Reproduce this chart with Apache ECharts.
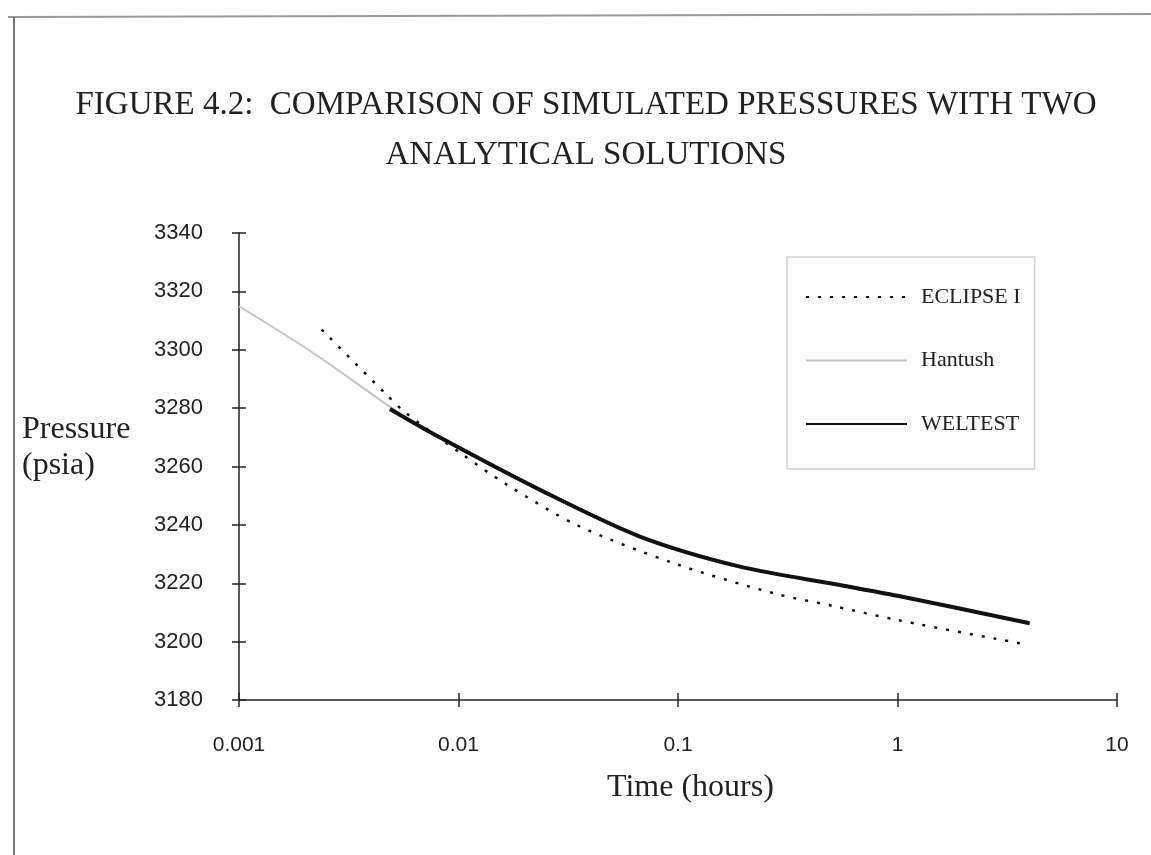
<!DOCTYPE html>
<html><head><meta charset="utf-8">
<script src="https://cdn.jsdelivr.net/npm/echarts@6/dist/echarts.min.js"></script>
<style>html,body{margin:0;padding:0;background:#fff}#c{width:1151px;height:855px}</style>
</head><body><div id="c"></div>
<script>
const titleLines = ['FIGURE 4.2:  COMPARISON OF SIMULATED PRESSURES WITH TWO', 'ANALYTICAL SOLUTIONS'];
const xTicks = [0.001, 0.01, 0.1, 1, 10];
const xTickLabels = ['0.001', '0.01', '0.1', '1', '10'];
const eclipseT = [0.00238, 0.00462, 0.0057, 0.0102, 0.0166, 0.0345, 0.0952, 0.272, 0.51, 1.0, 3.94];
const eclipseP = [3306.9, 3285.2, 3278.6, 3264.6, 3253.8, 3240.0, 3226.9, 3216.6, 3212.2, 3207.4, 3198.9];
const hantushT = [0.001, 0.00218, 0.00471, 0.0052];
const hantushP = [3314.9, 3298.9, 3281.2, 3279.2];
const weltestT = [0.00487, 0.00824, 0.0235, 0.0671, 0.1916, 0.547, 1.0, 4.0];
const weltestP = [3279.7, 3269.9, 3252.0, 3236.0, 3225.7, 3219.4, 3215.7, 3206.3];

const zip = (a, b) => a.map((v, i) => [v, b[i]]);
const serif = 'Liberation Serif';
const sans = 'Liberation Sans';
const G = {left: 239, right: 34, top: 233, bottom: 155};
const gridW = 1151 - G.left - G.right;
const gridH = 855 - G.top - G.bottom;
const tickStyle = {color: '#222', width: 1.5};
const chart = echarts.init(document.getElementById('c'));
chart.setOption({
  animation: false,
  backgroundColor: '#fff',
  title: [
    {text: titleLines[0], left: 581, top: 84, textAlign: 'center',
     textStyle: {fontFamily: serif, fontSize: 33, fontWeight: 'normal', color: '#222'}},
    {text: titleLines[1], left: 581, top: 134, textAlign: 'center',
     textStyle: {fontFamily: serif, fontSize: 33, fontWeight: 'normal', color: '#222'}}
  ],
  grid: G,
  legend: {
    orient: 'vertical', left: 787, top: 257,
    padding: [28, 14, 33, 18],
    itemGap: 39.5, itemWidth: 101, itemHeight: 14,
    backgroundColor: '#fcfcfc', borderColor: '#d4d4d4', borderWidth: 1.5,
    itemStyle: {opacity: 0, borderWidth: 0},
    textStyle: {fontFamily: serif, fontSize: 22, color: '#222', lineHeight: 24, padding: [0, 0, 0, 9]},
    data: ['ECLIPSE I', 'Hantush', 'WELTEST']
  },
  xAxis: [{
    type: 'log', logBase: 10, min: 0.001, max: 10, position: 'bottom',
    axisLine: {lineStyle: tickStyle},
    axisTick: {show: true, length: 7, lineStyle: tickStyle},
    minorTick: {show: false}, splitLine: {show: false},
    axisLabel: {margin: 35, fontFamily: sans, fontSize: 21, color: '#222',
      formatter: v => { const i = xTicks.findIndex(t => Math.abs(Math.log10(t) - Math.log10(v)) < 1e-6); return i >= 0 ? xTickLabels[i] : ''; }}
  }, {
    type: 'log', logBase: 10, min: 0.001, max: 10, position: 'top', offset: -gridH,
    axisLine: {show: false},
    axisTick: {show: true, inside: false, length: 7, lineStyle: tickStyle},
    minorTick: {show: false},
    axisLabel: {show: false}, splitLine: {show: false}
  }],
  yAxis: [{
    type: 'value', min: 3180, max: 3340, interval: 20, position: 'left',
    axisLine: {show: true, lineStyle: tickStyle},
    axisTick: {show: true, length: 7, lineStyle: tickStyle},
    splitLine: {show: false},
    axisLabel: {margin: 36, fontFamily: sans, fontSize: 22, color: '#222', formatter: v => String(v)}
  }, {
    type: 'value', min: 3180, max: 3340, interval: 20, position: 'right', offset: -gridW,
    axisLine: {show: false},
    axisTick: {show: true, inside: false, length: 7, lineStyle: tickStyle},
    axisLabel: {show: false}, splitLine: {show: false}
  }],
  series: [
    {name: 'Hantush', type: 'line', symbol: 'none', smooth: 0.3, z: 1,
     lineStyle: {color: '#c4c4c4', width: 2}, itemStyle: {color: '#c4c4c4'},
     data: zip(hantushT, hantushP)},
    {name: 'ECLIPSE I', type: 'line', symbol: 'none', smooth: 0.3, z: 2,
     lineStyle: {color: '#111', width: 2.5, type: [3, 9]}, itemStyle: {color: '#111'},
     data: zip(eclipseT, eclipseP)},
    {name: 'WELTEST', type: 'line', symbol: 'none', smooth: 0.3, z: 3,
     lineStyle: {color: '#111', width: 4}, itemStyle: {color: '#111'},
     data: zip(weltestT, weltestP)},
    {name: '_tickHost', type: 'line', symbol: 'none', silent: true, xAxisIndex: 1, yAxisIndex: 1,
     lineStyle: {opacity: 0}, tooltip: {show: false},
     data: zip(weltestT, weltestP)}
  ],
  graphic: [
    {type: 'line', shape: {x1: 8, y1: 17, x2: 1151, y2: 14}, style: {stroke: '#999', lineWidth: 2}},
    {type: 'line', shape: {x1: 14, y1: 17, x2: 14, y2: 855}, style: {stroke: '#777', lineWidth: 2}},
    {type: 'text', left: 22, top: 412, style: {text: 'Pressure\n(psia)', font: '32px "Liberation Serif"', fill: '#222', lineHeight: 36}},
    {type: 'text', left: 607, top: 772, style: {text: 'Time (hours)', font: '32px "Liberation Serif"', fill: '#222'}}
  ]
});
</script></body></html>
